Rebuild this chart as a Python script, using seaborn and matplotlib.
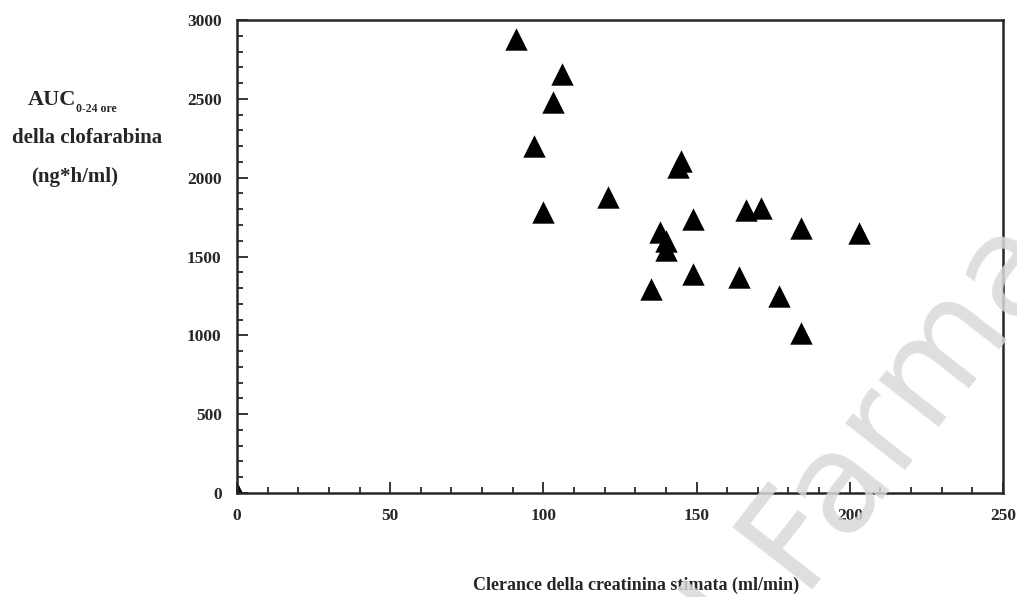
import matplotlib
matplotlib.use("Agg")
import matplotlib.pyplot as plt
from matplotlib.ticker import MultipleLocator
import seaborn as sns
import pandas as pd

# estimated creatinine clearance (ml/min) and clofarabine AUC 0-24h (ng*h/ml)
clearance = [0, 91, 106, 103, 97, 121, 100, 144, 145, 149, 138, 140, 140,
             149, 135, 166, 171, 184, 203, 164, 177, 184]
auc = [0, 2880, 2660, 2480, 2200, 1880, 1780, 2070, 2105, 1740, 1655, 1600, 1540,
       1390, 1295, 1795, 1810, 1680, 1650, 1372, 1250, 1015]

x_ticks = [0, 50, 100, 150, 200, 250]
y_ticks = [0, 500, 1000, 1500, 2000, 2500, 3000]

df = pd.DataFrame({"clearance": clearance, "auc": auc})

sns.set_style("ticks")
plt.rcParams["font.family"] = ["Liberation Serif", "DejaVu Serif"]
plt.rcParams["font.weight"] = "bold"

fig = plt.figure(figsize=(10.17, 5.97), dpi=100)
ax = fig.add_axes([0.2330, 0.1742, 0.7532, 0.7923])

sns.scatterplot(data=df, x="clearance", y="auc", marker="^", s=260,
                color="black", edgecolor="black", linewidth=0, ax=ax)

ax.set_xlim(0, 250)
ax.set_ylim(0, 3000)
ax.set_xticks(x_ticks)
ax.set_yticks(y_ticks)
ax.xaxis.set_minor_locator(MultipleLocator(10))
ax.yaxis.set_minor_locator(MultipleLocator(100))
ax.tick_params(which="both", direction="in", width=1.3, labelsize=12.5,
               top=False, right=False)
ax.tick_params(which="major", length=8)
ax.tick_params(which="minor", length=4.3)
ax.tick_params(axis="x", pad=11)
ax.tick_params(axis="y", pad=11)
for lbl in ax.get_xticklabels() + ax.get_yticklabels():
    lbl.set_fontweight("bold")
for sp in ax.spines.values():
    sp.set_linewidth(1.8)
    sp.set_visible(True)
ax.set_xlabel("")
ax.set_ylabel("")

# y-axis label written as three lines beside the axis
lab = fig.text(52 / 1017, 1 - 100 / 597, "AUC", fontsize=16, fontweight="bold",
               ha="center", va="center")
ax.annotate("0-24 ore", xy=(1, 0.05), xycoords=lab, fontsize=8.5,
            fontweight="bold", ha="left", va="center")
fig.text(87 / 1017, 1 - 138 / 597, "della clofarabina", fontsize=15,
         fontweight="bold", ha="center", va="center")
fig.text(75 / 1017, 1 - 177 / 597, "(ng*h/ml)", fontsize=15,
         fontweight="bold", ha="center", va="center")

fig.text(636 / 1017, 1 - 585 / 597, "Clerance della creatinina stimata (ml/min)",
         fontsize=13, fontweight="bold", ha="center", va="center")

# watermark
fig.text(880 / 1017, 1 - 440 / 597, "l Farma", fontsize=100, color="#d9d9d9",
         alpha=0.85, rotation=52, ha="center", va="center",
         fontfamily=["DejaVu Sans"], fontweight="normal", zorder=10)

fig.savefig("out.png", dpi=100)
